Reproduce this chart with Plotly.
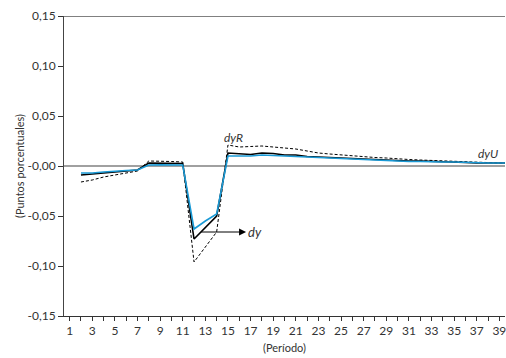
import plotly.graph_objects as go

periods = list(range(2, 41))
dy = [-0.009, -0.008, -0.0075, -0.006, -0.005, -0.004, 0.003, 0.003, 0.0028, 0.0025,
      -0.073, -0.061, -0.050, 0.013, 0.012, 0.0115, 0.013, 0.0125, 0.011, 0.011,
      0.0095, 0.009, 0.008, 0.0075, 0.007, 0.0065, 0.006, 0.006, 0.0055, 0.005,
      0.005, 0.0048, 0.0045, 0.004, 0.0035, 0.003, 0.003, 0.003, 0.003]
dyU = [-0.007, -0.007, -0.006, -0.005, -0.0045, -0.004, 0.001, 0.0012, 0.0012, 0.001,
       -0.063, -0.055, -0.048, 0.010, 0.010, 0.010, 0.011, 0.0105, 0.0095, 0.009,
       0.0085, 0.008, 0.0075, 0.007, 0.0065, 0.006, 0.0055, 0.005, 0.005, 0.0045,
       0.0045, 0.004, 0.004, 0.004, 0.0035, 0.003, 0.003, 0.003, 0.003]
dyR = [-0.016, -0.014, -0.011, -0.009, -0.007, -0.005, 0.005, 0.005, 0.0045, 0.004,
       -0.096, -0.081, -0.066, 0.021, 0.019, 0.0195, 0.020, 0.019, 0.018, 0.017,
       0.015, 0.013, 0.012, 0.011, 0.010, 0.009, 0.0085, 0.008, 0.007, 0.0065,
       0.006, 0.0055, 0.005, 0.0045, 0.004, 0.0035, 0.003, 0.003, 0.003]

x_ticks = list(range(1, 40))
x_labels = [str(v) if v % 2 == 1 else "" for v in x_ticks]
y_ticks = [-0.15, -0.10, -0.05, 0.0, 0.05, 0.10, 0.15]
y_labels = ["-0,15", "-0,10", "-0,05", "-0,00", "0,05", "0,10", "0,15"]

font = "Lato, Open Sans, sans-serif"

fig = go.Figure()
fig.add_trace(go.Scatter(x=periods, y=dyR, mode="lines",
                         line=dict(color="black", width=1, dash="3px,2px")))
fig.add_trace(go.Scatter(x=periods, y=dy, mode="lines",
                         line=dict(color="black", width=1.6)))
fig.add_trace(go.Scatter(x=periods, y=dyU, mode="lines",
                         line=dict(color="#1a9ad6", width=1.6)))

fig.add_shape(type="line", xref="paper", yref="y", x0=0, x1=1, y0=0, y1=0,
              line=dict(color="#808080", width=1.5), layer="below")
fig.add_shape(type="line", xref="paper", yref="y", x0=0, x1=1, y0=0.15, y1=0.15,
              line=dict(color="#808080", width=2))

fig.add_annotation(x=16.6, y=-0.066, ax=12.5, ay=-0.066, xref="x", yref="y",
                   axref="x", ayref="y", text="", showarrow=True, arrowhead=2,
                   arrowsize=1.4, arrowwidth=1, arrowcolor="black")
fig.add_annotation(x=17.4, y=-0.066, text="<i>dy</i>", showarrow=False,
                   font=dict(family=font, size=13, color="#333"))
fig.add_annotation(x=15.5, y=0.029, text="<i>dyR</i>", showarrow=False,
                   font=dict(family=font, size=12, color="#333"))
fig.add_annotation(x=38.0, y=0.013, text="<i>dyU</i>", showarrow=False,
                   font=dict(family=font, size=12, color="#333"))

fig.update_layout(
    width=506, height=358, showlegend=False,
    paper_bgcolor="white", plot_bgcolor="white",
    margin=dict(l=64, r=1, t=16, b=42, autoexpand=False),
    font=dict(family=font, size=12, color="#333"),
    xaxis=dict(range=[0.5, 39.5], tickvals=x_ticks, ticktext=x_labels,
               ticks="outside", ticklen=4, tickcolor="#333", showgrid=False,
               zeroline=False, showline=True, linecolor="#333", linewidth=1,
               automargin=False, ticklabeloverflow="allow",
               title=dict(text="(Período)", font=dict(size=11), standoff=6),
               tickfont=dict(size=12)),
    yaxis=dict(range=[-0.15, 0.15], tickvals=y_ticks, ticktext=y_labels,
               ticks="outside", ticklen=5, tickcolor="#333", showgrid=False,
               zeroline=False, showline=True, linecolor="#444", linewidth=1,
               automargin=False,
               title=dict(text="(Puntos porcentuales)", font=dict(size=11), standoff=0),
               tickfont=dict(size=12)),
)

fig.write_html("out.html", config={"displayModeBar": False},
               post_script="document.body.style.margin='0';document.body.style.overflow='hidden';")
